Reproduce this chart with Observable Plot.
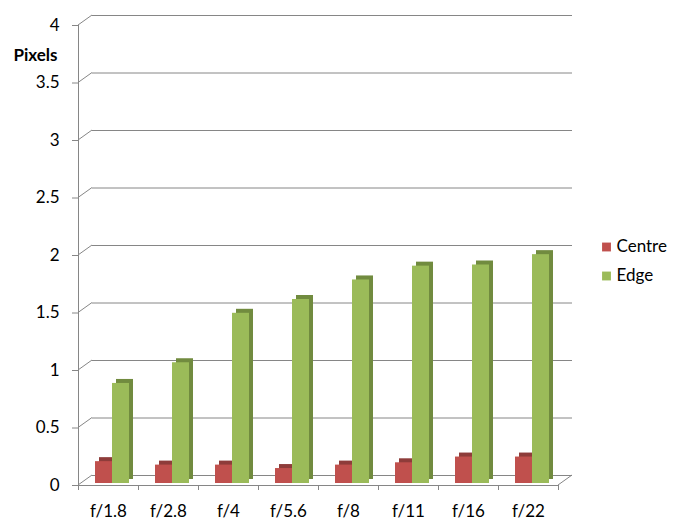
<!DOCTYPE html>
<html><head><meta charset="utf-8">
<script src="https://cdn.jsdelivr.net/npm/d3@7"></script>
<script src="https://cdn.jsdelivr.net/npm/@observablehq/plot@0.6"></script>
<style>body{margin:0;background:#fff;}</style>
</head><body><div id="chart"></div>
<script>
const categories = ["f/1.8","f/2.8","f/4","f/5.6","f/8","f/11","f/16","f/22"];
const centre = [0.19,0.16,0.16,0.13,0.16,0.18,0.23,0.23];
const edge = [0.87,1.05,1.48,1.60,1.77,1.89,1.90,1.99];
const yTicks = [0,0.5,1,1.5,2,2.5,3,3.5,4];
const seriesNames = ["Centre","Edge"];
const seriesValues = [centre, edge];
const seriesColors = ["#C0504D","#9BBB59"];
const seriesShade = ["#8E3C3A","#718B3F"];
const seriesInsets = [[17,26],[34,9]];

const rows = seriesNames.map((s,k) => seriesValues[k].map((v,i) => ({i, cat: categories[i], series: s, value: v})));

const font = "Lato, 'Open Sans', sans-serif";
const grid = "#868686";
const DX = 14, DY = -10;

function wallEdges(index, scales) {
  const g = d3.create("svg:g").attr("stroke", grid).attr("fill","none");
  for (const t of yTicks) {
    g.append("line").attr("x1", scales.x(0)).attr("y1", scales.y(t))
      .attr("x2", scales.x(0)+DX).attr("y2", scales.y(t)+DY);
  }
  const xe = scales.x(categories.length);
  g.append("line").attr("x1", xe).attr("y1", scales.y(0)).attr("x2", xe+DX).attr("y2", scales.y(0)+DY);
  return g.node();
}

const barMarks = [];
rows.forEach((data,k) => {
  const [il, ir] = seriesInsets[k];
  barMarks.push(Plot.rect(data, {x1: "i", x2: d => d.i+1, y1: 0, y2: "value", insetLeft: il, insetRight: ir, fill: seriesShade[k], dx: 4, dy: -6}));
  barMarks.push(Plot.rect(data, {x1: "i", x2: d => d.i+1, y1: 0, y2: "value", insetLeft: il, insetRight: ir, fill: seriesColors[k], dy: -2}));
});

const legendMarks = [];
seriesNames.forEach((s,k) => {
  legendMarks.push(Plot.dot([s], {frameAnchor: "right", dx: 48, dy: -8.5 + k*29, symbol: "square", r: 5, fill: seriesColors[k]}));
  legendMarks.push(Plot.text([s], {frameAnchor: "right", dx: 58, dy: -8.5 + k*29, textAnchor: "start", fontSize: 17, fill: "#000"}));
});

const chart = Plot.plot({
  width: 674, height: 526,
  marginLeft: 78, marginRight: 116, marginTop: 25, marginBottom: 41,
  style: {fontFamily: font, background: "#fff"},
  x: {type: "linear", domain: [0, categories.length]},
  y: {domain: [0, 4]},
  marks: [
    Plot.ruleY(yTicks, {y: d => d, dx: DX, dy: DY, stroke: grid}),
    wallEdges,
    Plot.ruleX([0], {y1: 0, y2: 4, stroke: grid}),
    Plot.ruleY([0], {stroke: grid}),
    Plot.axisY({ticks: yTicks, tickSize: 6, tickPadding: 13, tickFormat: d => String(d), fontSize: 17, stroke: grid, fill: "#000", label: null}),
    Plot.axisX({ticks: d3.range(categories.length+1), tickSize: 5, tickFormat: () => "", stroke: grid, label: null}),
    Plot.axisX({ticks: categories.map((c,i) => i+0.5), tickSize: 0, tickPadding: 19, tickFormat: d => categories[Math.floor(d)], fontSize: 17, fill: "#000", label: null}),
    ...barMarks,
    Plot.text(["Pixels"], {frameAnchor: "top-left", dx: -21, dy: 30, textAnchor: "end", lineAnchor: "middle", fontWeight: "bold", fontSize: 17, fill: "#000"}),
    ...legendMarks
  ]
});
document.getElementById("chart").append(chart);
</script>
</body></html>
